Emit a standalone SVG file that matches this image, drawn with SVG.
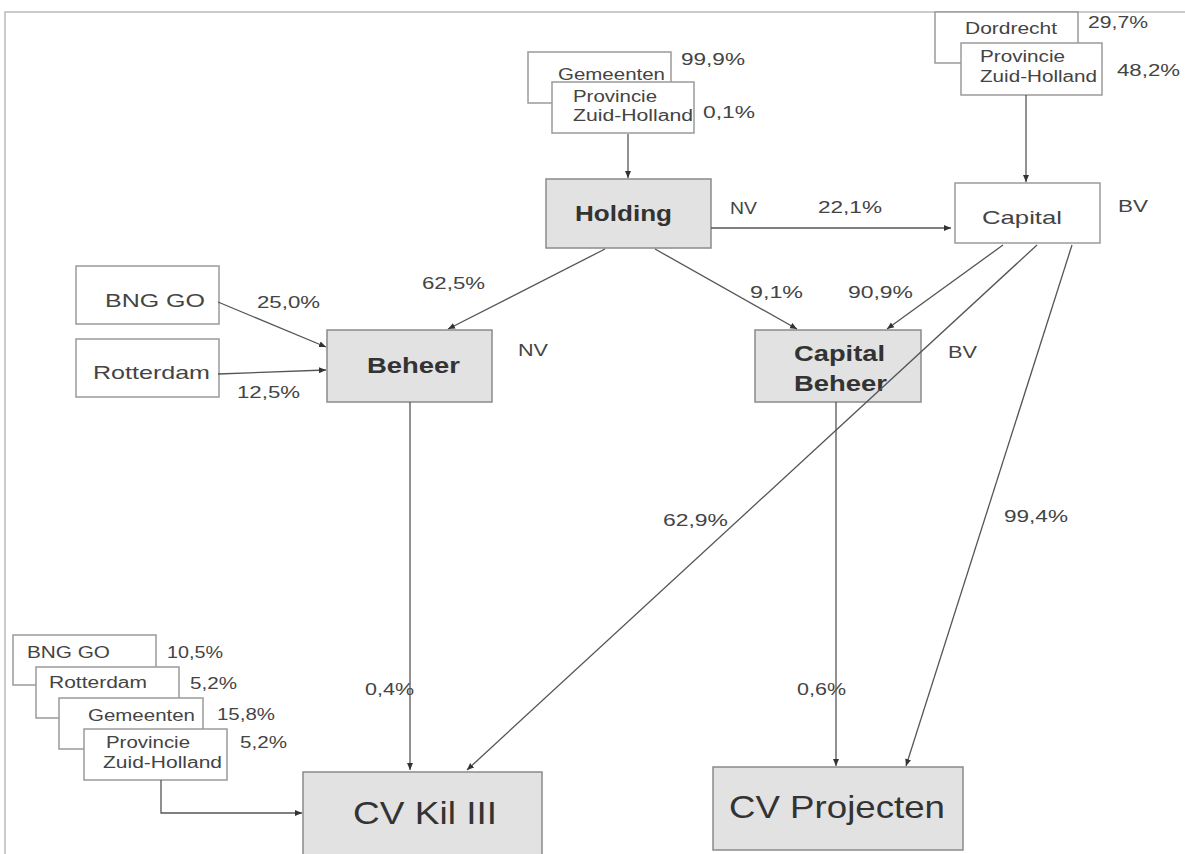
<svg xmlns="http://www.w3.org/2000/svg" width="1185" height="854" viewBox="0 0 1185 854">
<defs>
<marker id="arr" markerUnits="userSpaceOnUse" markerWidth="8" markerHeight="8" refX="7" refY="3.5" orient="auto">
<path d="M0,0.5 L7,3.5 L0,6.5 z" fill="#333"/>
</marker>
<style>
.bx{fill:#fff;stroke:#9a9a9a;stroke-width:1.5}
.gb{fill:#e2e2e2;stroke:#8a8a8a;stroke-width:1.5}
.ln{fill:none;stroke:#555;stroke-width:1.3;marker-end:url(#arr)}
text{font-family:"Liberation Sans",Arial,sans-serif;fill:#444}
.s{font-size:16px}
.p{font-size:16px}
.m{font-size:19px}
.b{font-size:22px;font-weight:bold;fill:#333}
.l{font-size:32px;fill:#333}
</style>
</defs>
<rect x="0" y="0" width="1185" height="854" fill="#fff"/>
<g id="frame" fill="none" stroke="#bbb" stroke-width="1.5">
<path d="M5,854 V12 H1185"/>
</g>

<g id="gemeenten-top">
<rect class="bx" x="528" y="52" width="143" height="51"/>
<text class="s" x="558" y="80" textLength="107" lengthAdjust="spacingAndGlyphs">Gemeenten</text>
<text class="p" x="681" y="65" textLength="64" lengthAdjust="spacingAndGlyphs">99,9%</text>
</g>
<g id="provincie-top">
<rect class="bx" x="552" y="82" width="142" height="51"/>
<text class="s" x="573" y="102" textLength="84" lengthAdjust="spacingAndGlyphs">Provincie</text>
<text class="s" x="573" y="121" textLength="120" lengthAdjust="spacingAndGlyphs">Zuid-Holland</text>
<text class="p" x="703" y="118" textLength="52" lengthAdjust="spacingAndGlyphs">0,1%</text>
</g>

<g id="dordrecht">
<rect class="bx" x="935" y="12" width="143" height="51"/>
<text class="s" x="965" y="34" textLength="92" lengthAdjust="spacingAndGlyphs">Dordrecht</text>
<text class="p" x="1088" y="28" textLength="60" lengthAdjust="spacingAndGlyphs">29,7%</text>
</g>
<g id="provincie-right">
<rect class="bx" x="961" y="43" width="141" height="52"/>
<text class="s" x="980" y="62" textLength="85" lengthAdjust="spacingAndGlyphs">Provincie</text>
<text class="s" x="980" y="82" textLength="117" lengthAdjust="spacingAndGlyphs">Zuid-Holland</text>
<text class="p" x="1117" y="76" textLength="63" lengthAdjust="spacingAndGlyphs">48,2%</text>
</g>

<g id="holding">
<rect class="gb" x="546" y="179" width="165" height="69"/>
<text class="b" x="575" y="221" textLength="97" lengthAdjust="spacingAndGlyphs">Holding</text>
<text class="p" x="730" y="214" textLength="27" lengthAdjust="spacingAndGlyphs">NV</text>
<text class="p" x="818" y="213" textLength="64" lengthAdjust="spacingAndGlyphs">22,1%</text>
</g>

<g id="capital">
<rect class="bx" x="955" y="183" width="145" height="60"/>
<text class="m" x="982" y="224" textLength="80" lengthAdjust="spacingAndGlyphs">Capital</text>
<text class="p" x="1118" y="212" textLength="30" lengthAdjust="spacingAndGlyphs">BV</text>
</g>

<g id="bng-go">
<rect class="bx" x="76" y="266" width="143" height="58"/>
<text class="m" x="105" y="307" textLength="100" lengthAdjust="spacingAndGlyphs">BNG GO</text>
<text class="p" x="257" y="308" textLength="63" lengthAdjust="spacingAndGlyphs">25,0%</text>
</g>
<g id="rotterdam">
<rect class="bx" x="76" y="339" width="143" height="58"/>
<text class="m" x="93" y="379" textLength="117" lengthAdjust="spacingAndGlyphs">Rotterdam</text>
<text class="p" x="237" y="398" textLength="63" lengthAdjust="spacingAndGlyphs">12,5%</text>
</g>

<g id="beheer">
<rect class="gb" x="327" y="330" width="165" height="72"/>
<text class="b" x="367" y="373" textLength="93" lengthAdjust="spacingAndGlyphs">Beheer</text>
<text class="p" x="518" y="356" textLength="30" lengthAdjust="spacingAndGlyphs">NV</text>
<text class="p" x="422" y="289" textLength="63" lengthAdjust="spacingAndGlyphs">62,5%</text>
</g>

<g id="capital-beheer">
<rect class="gb" x="755" y="330" width="166" height="72"/>
<text class="b" x="794" y="361" textLength="91" lengthAdjust="spacingAndGlyphs">Capital</text>
<text class="b" x="794" y="391" textLength="93" lengthAdjust="spacingAndGlyphs">Beheer</text>
<text class="p" x="948" y="358" textLength="29" lengthAdjust="spacingAndGlyphs">BV</text>
<text class="p" x="750" y="298" textLength="53" lengthAdjust="spacingAndGlyphs">9,1%</text>
<text class="p" x="848" y="298" textLength="65" lengthAdjust="spacingAndGlyphs">90,9%</text>
</g>

<g id="edge-labels">
<text class="p" x="663" y="526" textLength="65" lengthAdjust="spacingAndGlyphs">62,9%</text>
<text class="p" x="1004" y="522" textLength="64" lengthAdjust="spacingAndGlyphs">99,4%</text>
<text class="p" x="365" y="695" textLength="49" lengthAdjust="spacingAndGlyphs">0,4%</text>
<text class="p" x="797" y="695" textLength="49" lengthAdjust="spacingAndGlyphs">0,6%</text>
</g>

<g id="bng-go-bottom">
<rect class="bx" x="13" y="635" width="143" height="50"/>
<text class="s" x="27" y="658" textLength="83" lengthAdjust="spacingAndGlyphs">BNG GO</text>
<text class="p" x="167" y="658" textLength="56" lengthAdjust="spacingAndGlyphs">10,5%</text>
</g>
<g id="rotterdam-bottom">
<rect class="bx" x="36" y="667" width="143" height="51"/>
<text class="s" x="49" y="688" textLength="98" lengthAdjust="spacingAndGlyphs">Rotterdam</text>
<text class="p" x="190" y="689" textLength="47" lengthAdjust="spacingAndGlyphs">5,2%</text>
</g>
<g id="gemeenten-bottom">
<rect class="bx" x="59" y="698" width="144" height="51"/>
<text class="s" x="88" y="721" textLength="107" lengthAdjust="spacingAndGlyphs">Gemeenten</text>
<text class="p" x="217" y="720" textLength="58" lengthAdjust="spacingAndGlyphs">15,8%</text>
</g>
<g id="provincie-bottom">
<rect class="bx" x="84" y="729" width="143" height="51"/>
<text class="s" x="106" y="748" textLength="84" lengthAdjust="spacingAndGlyphs">Provincie</text>
<text class="s" x="103" y="768" textLength="119" lengthAdjust="spacingAndGlyphs">Zuid-Holland</text>
<text class="p" x="240" y="748" textLength="47" lengthAdjust="spacingAndGlyphs">5,2%</text>
</g>

<g id="cv-kil-iii">
<rect class="gb" x="303" y="772" width="239" height="90"/>
<text class="l" x="353" y="824" textLength="144" lengthAdjust="spacingAndGlyphs">CV Kil III</text>
</g>
<g id="cv-projecten">
<rect class="gb" x="713" y="767" width="250" height="83"/>
<text class="l" x="729" y="818" textLength="216" lengthAdjust="spacingAndGlyphs">CV Projecten</text>
</g>

<g id="connectors">
<path class="ln" d="M628,134 V178"/>
<path class="ln" d="M1026,95 V182"/>
<path class="ln" d="M711,228 H951"/>
<path class="ln" d="M605,249 L448,329"/>
<path class="ln" d="M655,249 L797,329"/>
<path class="ln" d="M1003,245 L887,329"/>
<path class="ln" d="M218,302 L326,347"/>
<path class="ln" d="M218,374 L326,370"/>
<path class="ln" d="M1037,245 L467,770"/>
<path class="ln" d="M1072,245 L906,766"/>
<path class="ln" d="M410,402 V770"/>
<path class="ln" d="M836,402 V766"/>
<path class="ln" d="M161,780 V813 H302"/>
</g>
</svg>
